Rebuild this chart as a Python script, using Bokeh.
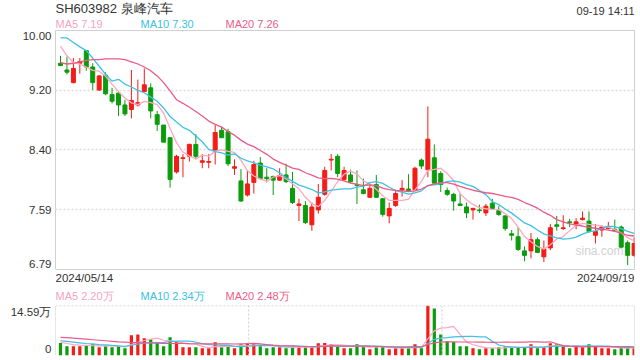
from bokeh.plotting import figure
from bokeh.models import FixedTicker, Label, Span, ColumnDataSource, Range1d
from bokeh.layouts import column
from bokeh.embed import file_html
from bokeh.resources import INLINE

# ---------------- data ----------------
opens = [9.56, 9.47, 9.30, 9.56, 9.73, 9.51, 9.20, 9.40, 9.14, 9.16,
         9.00, 8.94, 9.00, 9.18, 9.23, 8.87, 8.73, 8.56, 8.10, 8.28,
         8.31, 8.47, 8.23, 8.23, 8.39, 8.66, 8.64, 8.15, 7.98, 7.79,
         7.96, 8.22, 8.03, 8.04, 7.99, 8.06, 7.88, 7.65, 7.65, 7.39,
         7.59, 7.80, 8.26, 8.31, 8.00, 8.06, 7.93, 7.86, 7.76, 7.93,
         7.74, 7.51, 7.65, 7.86, 7.87, 7.86, 8.26, 8.13, 8.29, 8.08,
         7.85, 7.80, 7.67, 7.63, 7.59, 7.59, 7.55, 7.68, 7.58, 7.51,
         7.27, 7.23, 7.04, 7.04, 7.19, 6.96, 7.08, 7.39, 7.34, 7.43,
         7.40, 7.46, 7.44, 7.25, 7.32, 7.34, 7.33, 7.36, 7.15, 6.98]
highs = [9.66, 9.65, 9.63, 9.63, 9.73, 9.56, 9.40, 9.44, 9.23, 9.19,
         9.07, 9.47, 9.34, 9.49, 9.29, 8.92, 8.73, 8.57, 8.33, 8.34,
         8.48, 8.61, 8.34, 8.34, 8.73, 8.71, 8.68, 8.27, 8.14, 8.12,
         8.25, 8.30, 8.15, 8.05, 8.15, 8.21, 8.10, 7.74, 7.71, 7.69,
         7.94, 8.17, 8.34, 8.34, 8.17, 8.13, 8.12, 8.01, 7.94, 8.06,
         7.75, 7.69, 7.86, 7.99, 8.07, 8.17, 8.28, 8.98, 8.47, 8.11,
         7.89, 7.82, 7.81, 7.69, 7.62, 7.66, 7.67, 7.74, 7.64, 7.52,
         7.32, 7.36, 7.10, 7.28, 7.22, 7.18, 7.40, 7.51, 7.52, 7.47,
         7.48, 7.57, 7.57, 7.40, 7.38, 7.43, 7.46, 7.38, 7.18, 7.22]
lows = [9.52, 9.41, 9.29, 9.42, 9.46, 9.20, 9.19, 9.13, 9.02, 8.85,
        8.85, 8.82, 8.98, 9.17, 8.82, 8.65, 8.50, 7.89, 8.08, 8.03,
        8.24, 8.27, 8.15, 8.15, 8.20, 8.56, 8.18, 8.06, 7.70, 7.77,
        7.81, 8.00, 7.96, 7.79, 7.98, 7.95, 7.67, 7.44, 7.40, 7.31,
        7.54, 7.78, 8.12, 8.03, 7.98, 7.95, 7.67, 7.80, 7.75, 7.75,
        7.50, 7.41, 7.63, 7.77, 7.84, 7.85, 8.14, 8.03, 7.93, 7.83,
        7.78, 7.58, 7.65, 7.48, 7.46, 7.55, 7.51, 7.59, 7.51, 7.31,
        7.18, 7.04, 6.90, 6.94, 7.01, 6.89, 7.05, 7.31, 7.32, 7.36,
        7.33, 7.45, 7.28, 7.14, 7.23, 7.33, 7.30, 7.08, 6.85, 6.96]
closes = [9.53, 9.44, 9.49, 9.58, 9.51, 9.30, 9.39, 9.15, 9.05, 9.00,
          8.88, 9.06, 9.03, 9.27, 8.92, 8.74, 8.50, 8.00, 8.31, 8.29,
          8.47, 8.31, 8.25, 8.24, 8.63, 8.56, 8.21, 8.17, 7.71, 7.94,
          8.20, 8.01, 8.01, 7.99, 8.05, 7.97, 7.69, 7.67, 7.42, 7.63,
          7.76, 8.12, 8.27, 8.08, 8.12, 7.97, 7.92, 7.81, 7.88, 7.76,
          7.53, 7.61, 7.81, 7.88, 7.85, 8.15, 8.18, 8.54, 7.95, 7.93,
          7.80, 7.71, 7.65, 7.55, 7.61, 7.58, 7.64, 7.61, 7.53, 7.34,
          7.25, 7.06, 6.98, 7.19, 7.02, 7.07, 7.35, 7.37, 7.35, 7.42,
          7.43, 7.48, 7.30, 7.30, 7.36, 7.35, 7.31, 7.09, 6.98, 7.14]
# volume, in 万
volumes = [3.67, 2.71, 2.70, 2.68, 3.00, 3.29, 2.42, 2.71, 2.41, 2.70,
           2.13, 5.88, 6.16, 5.01, 4.72, 3.66, 2.70, 5.30, 3.96, 2.42,
           2.41, 2.43, 2.13, 2.12, 3.86, 2.42, 2.71, 2.13, 3.29, 3.57,
           3.66, 2.71, 2.13, 2.42, 2.41, 2.12, 2.71, 2.42, 2.41, 2.42,
           3.57, 3.67, 3.29, 2.52, 2.13, 2.13, 3.29, 2.71, 1.85, 2.42,
           2.71, 1.85, 2.13, 2.13, 2.13, 3.29, 2.13, 14.59, 13.74, 6.16,
           4.15, 3.96, 2.71, 2.71, 2.13, 1.85, 2.13, 2.13, 2.42, 2.71,
           2.42, 2.42, 2.42, 3.29, 2.13, 2.42, 3.57, 3.29, 2.71, 2.13,
           2.71, 2.42, 3.29, 2.71, 2.13, 2.13, 1.85, 2.25, 2.30, 2.50]

# moving-average values at the start of the window (they depend on earlier days)
ma5_head = [9.79, 9.66, 9.57, 9.55]
ma10_head = [9.90, 9.90, 9.84, 9.78, 9.73, 9.63, 9.52, 9.41, 9.32]
ma20_head = [9.57, 9.55, 9.56, 9.58, 9.60, 9.61, 9.61, 9.62, 9.62, 9.62,
             9.61, 9.58, 9.55, 9.51, 9.46, 9.39, 9.30, 9.19, 9.07]
vma5_head = [3.9, 3.5, 3.2, 3.0]
vma10_head = [4.3, 4.1, 3.9, 3.7, 3.5, 3.4, 3.2, 3.1, 2.95]
vma20_head = [5.3, 5.2, 5.05, 4.9, 4.75, 4.6, 4.45, 4.3, 4.15, 4.0,
              3.9, 3.8, 3.75, 3.7, 3.65, 3.6, 3.55, 3.5, 3.5]

symbol_title = "SH603982 泉峰汽车"
time_text = "09-19 14:11"
ma_labels = ["MA5 7.19", "MA10 7.30", "MA20 7.26"]
vol_ma_labels = ["MA5 2.20万", "MA10 2.34万", "MA20 2.48万"]
date_start, date_end = "2024/05/14", "2024/09/19"
price_ticks = [6.79, 7.59, 8.40, 9.20, 10.00]
vol_max = 14.59
vol_tick_labels = ["0", "14.59万"]
vol_vlines = [29.2, 59.2]

# ---------------- styling ----------------
RED, GREEN = "#f31c16", "#0b9c0b"
C_MA5, C_MA10, C_MA20 = "#ffa6c0", "#3dc2e6", "#ea5a84"
L_MA5, L_MA10, L_MA20 = "#f9a3bd", "#3bbfe2", "#ee5b87"
TXT = "#333333"
FONT = "Liberation Sans"
W = 636
LEFT, RIGHT = 55, 2


def moving_avg(vals, n, head):
    out = list(head)
    for i in range(n - 1, len(vals)):
        out.append(sum(vals[i - n + 1:i + 1]) / n)
    return out


def text_strip(h):
    """A frame-only figure in pixel units (aligned with the chart frames), for rows of text."""
    f = figure(width=W, height=h, x_range=Range1d(LEFT, W - RIGHT), y_range=Range1d(h, 0),
               output_backend="svg", toolbar_location=None,
               x_axis_location=None, y_axis_location=None,
               min_border_left=LEFT, min_border_right=RIGHT,
               min_border_top=0, min_border_bottom=0)
    f.outline_line_color = None
    f.grid.visible = False
    return f


def style_axis(ax):
    ax.axis_line_color = None
    ax.major_tick_line_color = None
    ax.minor_tick_line_color = None
    ax.major_tick_out = 0
    ax.major_tick_in = 0
    ax.minor_tick_out = 0
    ax.major_label_text_font_size = "11.5px"
    ax.major_label_text_color = TXT
    ax.major_label_text_font = FONT
    ax.major_label_standoff = 4


n = len(closes)
xs = list(range(n))
colors = [RED if c >= o else GREEN for o, c in zip(opens, closes)]
src = ColumnDataSource(dict(
    x=xs, high=highs, low=lows,
    top=[max(o, c) for o, c in zip(opens, closes)],
    bottom=[min(o, c) for o, c in zip(opens, closes)],
    color=colors, vol=volumes))

X0, X1 = -0.776, 89.06
Y0, Y1 = price_ticks[0], price_ticks[-1]

# ---------------- header text ----------------
head = text_strip(29)
head.add_layout(Label(x=LEFT, y=7.5, text=symbol_title, text_font=FONT,
                      text_font_size="13px", text_color=TXT, text_baseline="middle"))
head.add_layout(Label(x=W - RIGHT, y=10, text=time_text, text_align="right",
                      text_font=FONT, text_font_size="11px", text_color=TXT,
                      text_baseline="middle"))
for k, (t, c) in enumerate(zip(ma_labels, [L_MA5, L_MA10, L_MA20])):
    head.add_layout(Label(x=LEFT + 85 * k, y=23.5, text=t, text_font=FONT,
                          text_font_size="11px", text_color=c, text_baseline="middle"))

# ---------------- price panel ----------------
p1 = figure(width=W, height=242, x_range=(X0, X1), y_range=(Y0, Y1),
            output_backend="svg", toolbar_location=None, x_axis_location=None,
            min_border_left=LEFT, min_border_right=RIGHT, min_border_top=1,
            min_border_bottom=2)
p1.outline_line_color = "#d0d0d0"
p1.xgrid.visible = False
p1.ygrid.ticker = FixedTicker(ticks=price_ticks[1:-1])
p1.ygrid.grid_line_color = "#dcdcdc"
p1.ygrid.grid_line_dash = "2 2"
p1.ygrid.grid_line_width = 1.3

span_p = Y1 - Y0
lab_pos = [Y0 + 0.025 * span_p] + price_ticks[1:-1] + [Y1 - 0.022 * span_p]
p1.yaxis.ticker = FixedTicker(ticks=lab_pos)
p1.yaxis.major_label_overrides = {pos: f"{t:.2f}" for pos, t in zip(lab_pos, price_ticks)}
style_axis(p1.yaxis[0])

p1.segment(x0="x", y0="low", x1="x", y1="high", line_color="color",
           line_width=1, source=src)
p1.vbar(x="x", width=0.62, top="top", bottom="bottom", fill_color="color",
        line_color="color", line_width=1, source=src)
p1.line(xs, moving_avg(closes, 5, ma5_head), line_color=C_MA5, line_width=1.3)
p1.line(xs, moving_avg(closes, 10, ma10_head), line_color=C_MA10, line_width=1.3)
p1.line(xs, moving_avg(closes, 20, ma20_head), line_color=C_MA20, line_width=1.3)
p1.add_layout(Label(x=X1, x_offset=-11, y=Y0, y_offset=19, text="sina.com",
                    text_font=FONT, text_align="right", text_font_size="12px",
                    text_color="#d2d2d2", text_baseline="middle"))

# ---------------- middle text (dates + volume MA) ----------------
mid = text_strip(33)
mid.add_layout(Label(x=LEFT, y=6.5, text=date_start, text_font=FONT,
                     text_font_size="11.5px", text_color=TXT, text_baseline="middle"))
mid.add_layout(Label(x=W - RIGHT, y=6.5, text=date_end, text_font=FONT,
                     text_align="right", text_font_size="11.5px", text_color=TXT,
                     text_baseline="middle"))
for k, (t, c) in enumerate(zip(vol_ma_labels, [L_MA5, L_MA10, L_MA20])):
    mid.add_layout(Label(x=LEFT + 85 * k, y=24.5, text=t, text_font=FONT,
                         text_font_size="11px", text_color=c, text_baseline="middle"))

# ---------------- volume panel ----------------
p2 = figure(width=W, height=52, x_range=p1.x_range, y_range=(0, vol_max),
            output_backend="svg", toolbar_location=None, x_axis_location=None,
            min_border_left=LEFT, min_border_right=RIGHT, min_border_top=1,
            min_border_bottom=1)
p2.outline_line_color = None
p2.grid.visible = False
vlab_pos = [0.14 * vol_max, 0.866 * vol_max]
p2.yaxis.ticker = FixedTicker(ticks=vlab_pos)
p2.yaxis.major_label_overrides = {pos: t for pos, t in zip(vlab_pos, vol_tick_labels)}
style_axis(p2.yaxis[0])

p2.add_layout(Span(location=vol_max, dimension="width", line_color="#cfcfcf",
                   line_dash="2 2", line_width=1.3))
for xv in vol_vlines:
    p2.add_layout(Span(location=xv, dimension="height", line_color="#cfcfcf",
                       line_dash="2 2", line_width=1))
p2.add_layout(Span(location=X0, dimension="height", line_color="#d0d0d0", line_width=1))
p2.add_layout(Span(location=X1, dimension="height", line_color="#d0d0d0", line_width=1))

p2.vbar(x="x", width=0.5, top="vol", bottom=0, fill_color="color",
        line_color=None, source=src)
p2.line(xs, moving_avg(volumes, 5, vma5_head), line_color=C_MA5, line_width=1.2)
p2.line(xs, moving_avg(volumes, 10, vma10_head), line_color=C_MA10, line_width=1.2)
p2.line(xs, moving_avg(volumes, 20, vma20_head), line_color=C_MA20, line_width=1.2)

layout = column(head, p1, mid, p2, spacing=0)
open("out.html", "w").write(file_html(layout, INLINE))
